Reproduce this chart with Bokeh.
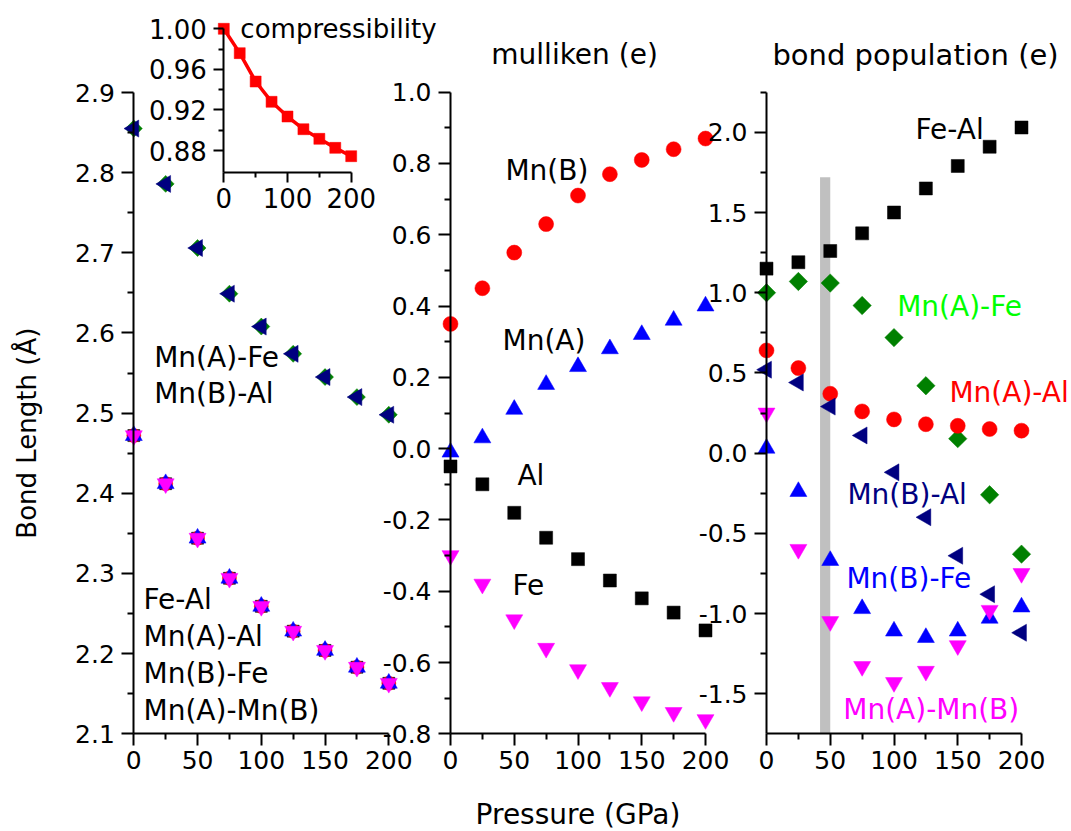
import numpy as np
from bokeh.plotting import figure
from bokeh.models import Range1d, LinearAxis, FixedTicker, Label, PrintfTickFormatter
from bokeh.embed import file_html
from bokeh.resources import INLINE

W, H = 1071, 831
FONT = "DejaVu Sans"

pressure = [0, 25, 50, 75, 100, 125, 150, 175, 200]

# ---- Bond lengths (Å) ----
bl_mnA_fe = [2.855, 2.786, 2.706, 2.649, 2.608, 2.574, 2.545, 2.520, 2.498]
bl_mnB_al = [2.855, 2.786, 2.706, 2.649, 2.608, 2.574, 2.545, 2.520, 2.498]
bl_fe_al = [2.472, 2.412, 2.344, 2.294, 2.259, 2.228, 2.204, 2.183, 2.163]
bl_mnA_al = [2.472, 2.412, 2.344, 2.294, 2.259, 2.228, 2.204, 2.183, 2.163]
bl_mnB_fe = [2.472, 2.412, 2.344, 2.294, 2.259, 2.228, 2.204, 2.183, 2.163]
bl_mnA_mnB = [2.472, 2.412, 2.344, 2.294, 2.259, 2.228, 2.204, 2.183, 2.163]

# ---- Compressibility (inset) ----
compress = [1.000, 0.976, 0.948, 0.928, 0.9135, 0.901, 0.8915, 0.8826, 0.8744]

# ---- Mulliken charges (e) ----
mull_mnB = [0.35, 0.45, 0.55, 0.63, 0.71, 0.77, 0.81, 0.84, 0.87]
mull_mnA = [-0.01, 0.03, 0.11, 0.18, 0.23, 0.28, 0.32, 0.36, 0.40]
mull_al = [-0.05, -0.10, -0.18, -0.25, -0.31, -0.37, -0.42, -0.46, -0.51]
mull_fe = [-0.30, -0.38, -0.48, -0.56, -0.62, -0.67, -0.71, -0.74, -0.76]

# ---- Bond populations (e) ----
bp_fe_al = [1.15, 1.19, 1.26, 1.37, 1.50, 1.65, 1.79, 1.91, 2.03]
bp_mnA_fe = [1.00, 1.07, 1.06, 0.92, 0.72, 0.42, 0.09, -0.26, -0.63]
bp_mnA_al = [0.64, 0.53, 0.37, 0.26, 0.21, 0.18, 0.17, 0.15, 0.14]
bp_mnB_al = [0.52, 0.44, 0.29, 0.11, -0.12, -0.40, -0.64, -0.88, -1.12]
bp_mnB_fe = [0.03, -0.24, -0.67, -0.97, -1.11, -1.15, -1.11, -1.03, -0.96]
bp_mnA_mnB = [0.25, -0.60, -1.05, -1.33, -1.43, -1.36, -1.20, -0.98, -0.75]

# shaded transition band (GPa) and its top (e)
band_p = [42, 50]
band_top = 1.72

# ---- ticks ----
xt_major = [0, 50, 100, 150, 200]
xt_minor = [25, 75, 125, 175]
yL_major = [2.1, 2.2, 2.3, 2.4, 2.5, 2.6, 2.7, 2.8, 2.9]
yL_minor = [2.15, 2.25, 2.35, 2.45, 2.55, 2.65, 2.75, 2.85]
yM_major = [-0.8, -0.6, -0.4, -0.2, 0.0, 0.2, 0.4, 0.6, 0.8, 1.0]
yM_minor = [-0.7, -0.5, -0.3, -0.1, 0.1, 0.3, 0.5, 0.7, 0.9]
yR_major = [-1.5, -1.0, -0.5, 0.0, 0.5, 1.0, 1.5, 2.0]
yR_minor = [-1.25, -0.75, -0.25, 0.25, 0.75, 1.25, 1.75, 2.25]
xI_major = [0, 100, 200]
xI_minor = [50, 150]
yI_major = [0.88, 0.92, 0.96, 1.00]
yI_minor = [0.90, 0.94, 0.98]


def x_map(v0, p0, v1, p1):
    s = (p1 - p0) / (v1 - v0)
    start = v0 - p0 / s
    return Range1d(start=start, end=start + W / s)


def y_map(v0, p0, v1, p1):
    s = (p0 - p1) / (v1 - v0)
    start = v0 - (H - p0) / s
    return Range1d(start=start, end=start + H / s)


p = figure(width=W, height=H, x_range=Range1d(0, W), y_range=Range1d(0, H),
           x_axis_location=None, y_axis_location=None, toolbar_location=None,
           output_backend="svg", min_border=0, outline_line_color=None,
           background_fill_color="white", border_fill_color="white")
p.grid.visible = False

p.extra_x_ranges = {
    "xL": x_map(0, 133.3, 200, 388.3),
    "xM": x_map(0, 450.0, 200, 705.0),
    "xR": x_map(0, 766.0, 200, 1021.0),
    "xI": x_map(0, 223.3, 200, 350.7),
}
p.extra_y_ranges = {
    "yL": y_map(2.1, 733.3, 2.9, 92.0),
    "yM": y_map(-0.8, 733.3, 1.0, 91.7),
    "yR": y_map(-1.75, 733.3, 2.25, 91.7),
    "yI": y_map(0.88, 150.0, 1.00, 28.3),
}


def add_axes(xn, yn, ylo, yhi, ymaj, ymin, xmaj, xmin, yfmt, label_size="25px",
             maj_out=12, min_out=6, xlabel=None):
    ya = LinearAxis(x_range_name=xn, y_range_name=yn, fixed_location=0,
                    bounds=(ylo, yhi),
                    ticker=FixedTicker(ticks=ymaj, minor_ticks=ymin),
                    formatter=PrintfTickFormatter(format=yfmt))
    xa = LinearAxis(x_range_name=xn, y_range_name=yn, fixed_location=ylo,
                    bounds=(0, 200),
                    ticker=FixedTicker(ticks=xmaj, minor_ticks=xmin),
                    formatter=PrintfTickFormatter(format="%d"))
    for a in (ya, xa):
        a.axis_line_width = 2
        a.axis_line_color = "black"
        a.major_tick_line_width = 2
        a.minor_tick_line_width = 2
        a.major_tick_in = 0
        a.minor_tick_in = 0
        a.major_tick_out = maj_out
        a.minor_tick_out = min_out
        a.major_label_text_font = FONT
        a.major_label_text_font_size = label_size
        a.major_label_text_color = "black"
        a.axis_label_text_font = FONT
        a.axis_label_text_font_style = "normal"
        a.axis_label_text_color = "black"
    ya.major_label_standoff = 7
    xa.major_label_standoff = 5
    if xlabel:
        xa.axis_label = xlabel
        xa.axis_label_text_font_size = "28px"
        xa.axis_label_standoff = 26
    p.add_layout(ya, "left")
    p.add_layout(xa, "below")


def pts(x, y, xn, yn, marker, color, size, angle=0.0):
    p.scatter(x, y, x_range_name=xn, y_range_name=yn, marker=marker, size=size,
              fill_color=color, line_color=color, line_width=0.5, angle=angle)


def note(text, x, y, xn, yn, color="black", size="28px", align="left", angle=0.0):
    p.add_layout(Label(x=x, y=y, x_range_name=xn, y_range_name=yn, text=text,
                       text_color=color, text_font=FONT, text_font_size=size,
                       text_align=align, text_baseline="middle", angle=angle))


# ================= Left panel: bond lengths =================
pts(pressure, bl_mnA_fe, "xL", "yL", "square", "#008000", 12, np.pi / 4)
pts(pressure, bl_mnB_al, "xL", "yL", "triangle", "#000080", 17, np.pi / 2)
pts(pressure, bl_fe_al, "xL", "yL", "square", "black", 12)
pts(pressure, bl_mnA_al, "xL", "yL", "circle", "red", 14)
pts(pressure, bl_mnB_fe, "xL", "yL", "triangle", "blue", 17)
pts(pressure, bl_mnA_mnB, "xL", "yL", "inverted_triangle", "#FF00FF", 17)
add_axes("xL", "yL", 2.1, 2.9, yL_major, yL_minor, xt_major, xt_minor, "%.1f")
note("Bond Length (Å)", -83.4, 2.475, "xL", "yL", size="26px", align="center",
     angle=np.pi / 2)
note("Mn(A)-Fe", 16, 2.569, "xL", "yL")
note("Mn(B)-Al", 16, 2.524, "xL", "yL")
note("Fe-Al", 7.6, 2.267, "xL", "yL")
note("Mn(A)-Al", 7.6, 2.221, "xL", "yL")
note("Mn(B)-Fe", 7.6, 2.175, "xL", "yL")
note("Mn(A)-Mn(B)", 7.6, 2.129, "xL", "yL")

# ================= Inset: compressibility =================
p.line(pressure, compress, x_range_name="xI", y_range_name="yI",
       line_color="red", line_width=3.5)
pts(pressure, compress, "xI", "yI", "square", "red", 11)
add_axes("xI", "yI", 0.858, 1.00, yI_major, yI_minor, xI_major, xI_minor, "%.2f",
         label_size="26px", maj_out=10, min_out=5)
note("compressibility", 26, 1.0, "xI", "yI", size="26px")

# ================= Middle panel: Mulliken =================
pts(pressure, mull_mnB, "xM", "yM", "circle", "red", 15)
pts(pressure, mull_mnA, "xM", "yM", "triangle", "blue", 17)
pts(pressure, mull_al, "xM", "yM", "square", "black", 13)
pts(pressure, mull_fe, "xM", "yM", "inverted_triangle", "#FF00FF", 17)
add_axes("xM", "yM", -0.8, 1.0, yM_major, yM_minor, xt_major, xt_minor, "%.1f",
         xlabel="Pressure (GPa)")
note("mulliken (e)", 97.3, 1.106, "xM", "yM", size="28px", align="center")
note("Mn(B)", 43.1, 0.781, "xM", "yM")
note("Mn(A)", 40.8, 0.303, "xM", "yM")
note("Al", 52.5, -0.075, "xM", "yM")
note("Fe", 48.6, -0.385, "xM", "yM")

# ================= Right panel: bond population =================
p.quad(left=[band_p[0]], right=[band_p[1]], bottom=[-1.75], top=[band_top],
       x_range_name="xR", y_range_name="yR", fill_color="#C0C0C0", line_color=None)
pts(pressure, bp_fe_al, "xR", "yR", "square", "black", 13)
pts(pressure, bp_mnA_fe, "xR", "yR", "square", "#008000", 13, np.pi / 4)
pts(pressure, bp_mnA_al, "xR", "yR", "circle", "red", 15)
pts(pressure, bp_mnB_al, "xR", "yR", "triangle", "#000080", 17, np.pi / 2)
pts(pressure, bp_mnB_fe, "xR", "yR", "triangle", "blue", 17)
pts(pressure, bp_mnA_mnB, "xR", "yR", "inverted_triangle", "#FF00FF", 17)
add_axes("xR", "yR", -1.75, 2.25, yR_major, yR_minor, xt_major, xt_minor, "%.1f")
note("bond population (e)", 116.9, 2.485, "xR", "yR", size="29px", align="center")
note("Fe-Al", 116.9, 2.019, "xR", "yR")
note("Mn(A)-Fe", 102.5, 0.912, "xR", "yR", color="#00FF00")
note("Mn(A)-Al", 143.5, 0.378, "xR", "yR", color="red")
note("Mn(B)-Al", 63.5, -0.261, "xR", "yR", color="#000080")
note("Mn(B)-Fe", 62.7, -0.782, "xR", "yR", color="blue")
note("Mn(A)-Mn(B)", 60.2, -1.600, "xR", "yR", color="#FF00FF")

open("out.html", "w").write(file_html(p, INLINE))
